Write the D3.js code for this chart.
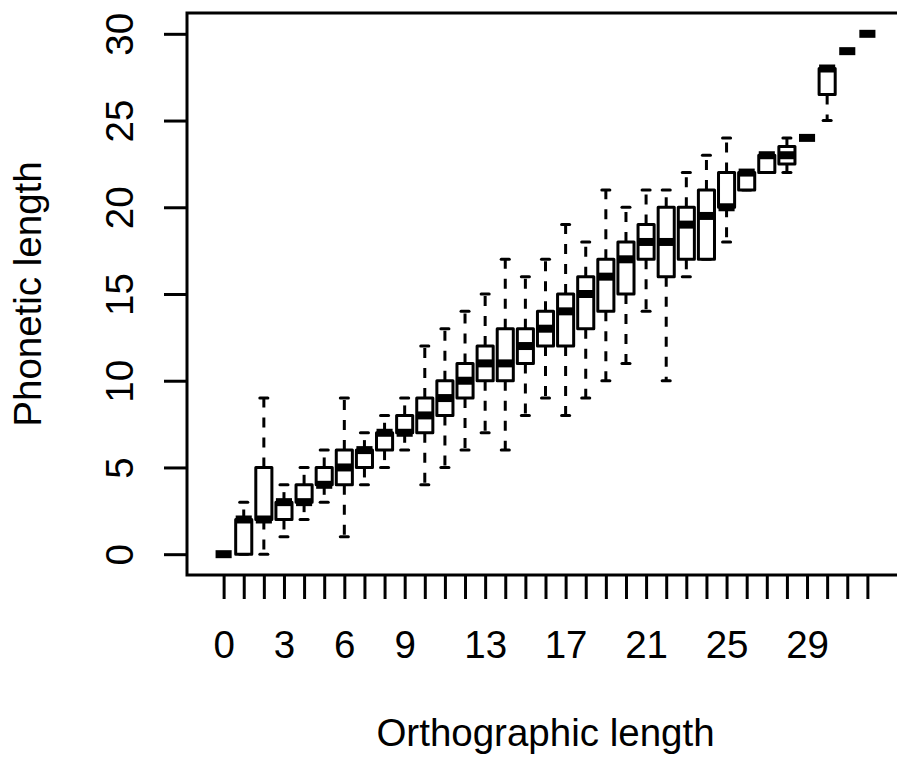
<!DOCTYPE html>
<html>
<head>
<meta charset="utf-8">
<script src="https://cdn.jsdelivr.net/npm/d3@7"></script>
<style>
  body { margin: 0; background: #fff; }
  text { font-family: "Liberation Sans", Arial, Helvetica, sans-serif; fill: #000; }
</style>
</head>
<body>
<svg id="chart" width="897" height="760"></svg>
<script>
// orthographic length categories (one box each)
var categories = [0, 1, 2, 3, 4, 5, 6, 7, 8, 9, 10, 11, 12, 13, 14, 15, 16,
                  17, 18, 19, 20, 21, 22, 23, 24, 25, 26, 27, 28, 29, 30, 31, 32];

// five number summaries of phonetic length
var lowWhisker = [0, 0, 0, 1, 2, 3, 1, 4, 5, 6, 4, 5, 6, 7, 6, 8, 9,
                  8, 9, 10, 11, 14, 10, 16, 17, 18, 21, 22, 22, 24, 25, 29, 30];
var lowerQuart = [0, 0, 2, 2, 3, 4, 4, 5, 6, 7, 7, 8, 9, 10, 10, 11, 12,
                  12, 13, 14, 15, 17, 16, 17, 17, 20, 21, 22, 22.5, 24, 26.5, 29, 30];
var medians    = [0, 2, 2, 3, 3, 4, 5, 6, 7, 7, 8, 9, 10, 11, 11, 12, 13,
                  14, 15, 16, 17, 18, 18, 19, 19.5, 20, 22, 23, 23, 24, 28, 29, 30];
var upperQuart = [0, 2, 5, 3, 4, 5, 6, 6, 7, 8, 9, 10, 11, 12, 13, 13, 14,
                  15, 16, 17, 18, 19, 20, 20, 21, 22, 22, 23, 23.5, 24, 28, 29, 30];
var highWhisker = [0, 3, 9, 4, 5, 6, 9, 7, 8, 9, 12, 13, 14, 15, 17, 16, 17,
                   19, 18, 21, 20, 21, 21, 22, 23, 24, 22, 23, 24, 24, 28, 29, 30];

var xTickLabels = [0, 3, 6, 9, 13, 17, 21, 25, 29];
var yTicks = [0, 5, 10, 15, 20, 25, 30];

var svg = d3.select("#chart"),
    width = +svg.attr("width"),
    height = +svg.attr("height"),
    fontSize = 38.5,
    lw = 3;

var plot = { left: 187, right: 904, top: 13, bottom: 575 };

// R style: boxes at 1..n with 4% padding either side
var x = d3.scaleLinear()
    .domain([-1.82, 33.82])
    .range([plot.left, plot.right]);

var y = d3.scaleLinear()
    .domain([-1.2, 31.2])
    .range([plot.bottom, plot.top]);

var halfBox = 0.4,
    halfStaple = 0.2;

var boxes = categories.map(function(c, i) {
  return { cat: c, min: lowWhisker[i], q1: lowerQuart[i], med: medians[i],
           q3: upperQuart[i], max: highWhisker[i] };
});

svg.append("rect")
    .attr("width", width)
    .attr("height", height)
    .attr("fill", "#fff");

var g = svg.append("g").attr("class", "boxes");

var box = g.selectAll("g")
    .data(boxes)
    .enter().append("g");

// dashed whiskers
box.append("line")
    .attr("x1", function(d) { return x(d.cat); })
    .attr("x2", function(d) { return x(d.cat); })
    .attr("y1", function(d) { return y(d.q3); })
    .attr("y2", function(d) { return y(d.max); })
    .attr("stroke", "#000")
    .attr("stroke-width", lw)
    .attr("stroke-dasharray", "10,10");

box.append("line")
    .attr("x1", function(d) { return x(d.cat); })
    .attr("x2", function(d) { return x(d.cat); })
    .attr("y1", function(d) { return y(d.q1); })
    .attr("y2", function(d) { return y(d.min); })
    .attr("stroke", "#000")
    .attr("stroke-width", lw)
    .attr("stroke-dasharray", "10,10");

// staples
["min", "max"].forEach(function(k) {
  box.append("line")
      .attr("x1", function(d) { return x(d.cat - halfStaple); })
      .attr("x2", function(d) { return x(d.cat + halfStaple); })
      .attr("y1", function(d) { return y(d[k]); })
      .attr("y2", function(d) { return y(d[k]); })
      .attr("stroke", "#000")
      .attr("stroke-width", lw)
      .attr("stroke-linecap", "round");
});

box.append("rect")
    .attr("x", function(d) { return x(d.cat - halfBox); })
    .attr("width", function(d) { return x(d.cat + halfBox) - x(d.cat - halfBox); })
    .attr("y", function(d) { return y(d.q3); })
    .attr("height", function(d) { return y(d.q1) - y(d.q3); })
    .attr("fill", "#fff")
    .attr("stroke", "#000")
    .attr("stroke-width", lw)
    .attr("stroke-linejoin", "round");

// thick median bar
box.append("line")
    .attr("x1", function(d) { return x(d.cat - halfBox); })
    .attr("x2", function(d) { return x(d.cat + halfBox); })
    .attr("y1", function(d) { return y(d.med); })
    .attr("y2", function(d) { return y(d.med); })
    .attr("stroke", "#000")
    .attr("stroke-width", 8);

// plot frame
svg.append("rect")
    .attr("x", plot.left)
    .attr("y", plot.top)
    .attr("width", plot.right - plot.left)
    .attr("height", plot.bottom - plot.top)
    .attr("fill", "none")
    .attr("stroke", "#000")
    .attr("stroke-width", lw);

// x axis: a tick per box, sparse labels
var xAxis = d3.axisBottom(x)
    .tickValues(categories)
    .tickSize(24)
    .tickSizeOuter(0)
    .tickFormat(function(d) { return xTickLabels.indexOf(d) >= 0 ? d : ""; });

var gx = svg.append("g")
    .attr("transform", "translate(0," + plot.bottom + ")")
    .call(xAxis);
gx.select(".domain").remove();
gx.selectAll(".tick line").attr("stroke-width", lw);
gx.selectAll(".tick text")
    .attr("y", 83)
    .attr("dy", 0)
    .style("font-size", fontSize + "px")
    .style("font-family", "\"Liberation Sans\", Arial, sans-serif");

// y axis with labels parallel to the axis
var yAxis = d3.axisLeft(y)
    .tickValues(yTicks)
    .tickSize(23)
    .tickSizeOuter(0);

var gy = svg.append("g")
    .attr("transform", "translate(" + plot.left + ",0)")
    .call(yAxis);
gy.select(".domain").remove();
gy.selectAll(".tick line").attr("stroke-width", lw);
gy.selectAll(".tick text")
    .attr("x", null)
    .attr("dy", 0)
    .attr("text-anchor", "middle")
    .attr("transform", "translate(-54,0) rotate(-90)")
    .style("font-size", fontSize + "px")
    .style("font-family", "\"Liberation Sans\", Arial, sans-serif");

svg.append("text")
    .attr("x", (plot.left + plot.right) / 2)
    .attr("y", 746)
    .attr("text-anchor", "middle")
    .style("font-size", fontSize + "px")
    .text("Orthographic length");

svg.append("text")
    .attr("transform", "translate(41," + (plot.top + plot.bottom) / 2 + ") rotate(-90)")
    .attr("text-anchor", "middle")
    .style("font-size", fontSize + "px")
    .text("Phonetic length");
</script>
</body>
</html>
